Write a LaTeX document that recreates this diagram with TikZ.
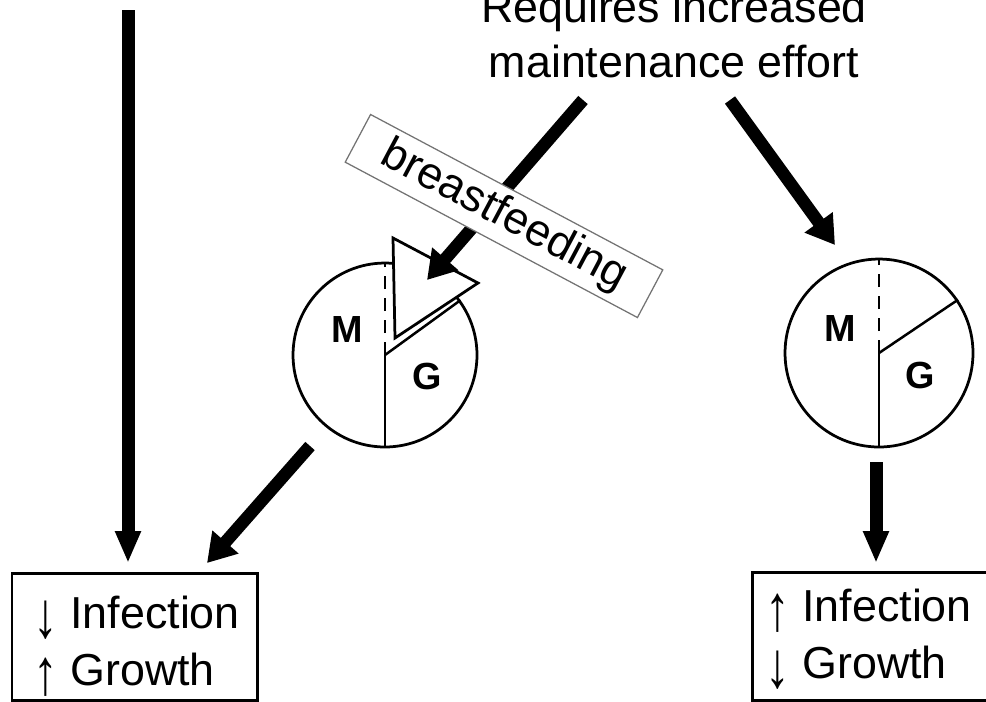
\documentclass[tikz,border=0pt]{standalone}
\usepackage{fontspec}
\setmainfont{Liberation Sans}
\usetikzlibrary{arrows.meta}
\newcommand{\upar}{\raisebox{-0.22em}{\scalebox{1.1}[1.45]{↑}}}
\newcommand{\dnar}{\raisebox{-0.22em}{\scalebox{1.1}[1.45]{↓}}}
\begin{document}
\begin{tikzpicture}[x=0.02cm,y=-0.02cm,
  bigarrow/.style={line width=0.25cm, -{Triangle[width=0.66cm,length=0.56cm]}},
  varrow/.style={line width=0.26cm, -{Triangle[width=0.48cm,length=0.64cm]}},
  pie/.style={circle, draw, line width=0.055cm, inner sep=0pt},
  thin/.style={line width=0.05cm},
  dashline/.style={line width=0.05cm, dash pattern=on 0.26cm off 0.18cm},
  bigtext/.style={inner sep=0pt, font=\fontsize{25.5}{30}\selectfont},
  pielabel/.style={inner sep=0pt, font=\bfseries\fontsize{21.5}{24}\selectfont},
  resbox/.style={draw, line width=0.06cm}
]
\useasboundingbox (0,0) rectangle (986,701);

% top text
\node[bigtext, anchor=base] (t1) at (674,22) {Requires increased};
\node[bigtext, anchor=base] (t2) at (674,77) {maintenance effort};

% pies
\node[pie, minimum size=3.68cm] (lp) at (385,355) {};
\node[pie, minimum size=3.76cm] (rp) at (879,353) {};

% left pie interior
\draw[dashline] (lp.center) -- (lp.north);
\draw[thin] (lp.center) -- (lp.south);
\draw[thin] (lp.center) -- (lp.36);
\coordinate (tra) at (393,238);
\coordinate (trb) at (478,283);
\coordinate (trc) at (395,338);
\filldraw[fill=white, line width=0.055cm, line join=miter] (tra) -- (trb) -- (trc) -- cycle;
\node[pielabel] (lm) at (347,329) {M};
\node[pielabel] (lg) at (427,376) {G};

% right pie interior
\draw[dashline] (rp.center) -- (rp.north);
\draw[thin] (rp.center) -- (rp.south);
\draw[thin] (rp.center) -- (rp.34);
\node[pielabel] (rm) at (840,328) {M};
\node[pielabel] (rg) at (920,375) {G};

% arrows
\coordinate (a0) at (128,10);
\coordinate (a0t) at (128,563);
\draw[varrow] (a0) -- (a0t);

\coordinate (a1) at (583,100);
\coordinate (a1t) at (427,280);
\draw[bigarrow] (a1) -- (a1t);

\coordinate (a2) at (730,100);
\coordinate (a2t) at (835,245);
\draw[bigarrow] (a2) -- (a2t);

\coordinate (a3) at (310,446);
\coordinate (a3t) at (207,563);
\draw[bigarrow] (a3) -- (a3t);

\coordinate (a4) at (876,462);
\coordinate (a4t) at (876,563);
\draw[varrow] (a4) -- (a4t);

% breastfeeding label
\node[draw=black!55, line width=0.025cm, fill=white, rotate=-28,
      minimum width=6.62cm, minimum height=1.08cm, inner sep=0pt,
      font=\fontsize{25.5}{30}\selectfont] (bf) at (504,216) {breastfeeding};

% result boxes
\draw[resbox] (12,573) rectangle (257,700);
\node[bigtext, anchor=base west] (l1) at (33,628) {\dnar{} Infection};
\node[bigtext, anchor=base west] (l2) at (33,685) {\upar{} Growth};

\draw[resbox] (752,572) rectangle (996,700);
\node[bigtext, anchor=base west] (r1) at (765,621) {\upar{} Infection};
\node[bigtext, anchor=base west] (r2) at (765,678) {\dnar{} Growth};
\end{tikzpicture}
\end{document}
